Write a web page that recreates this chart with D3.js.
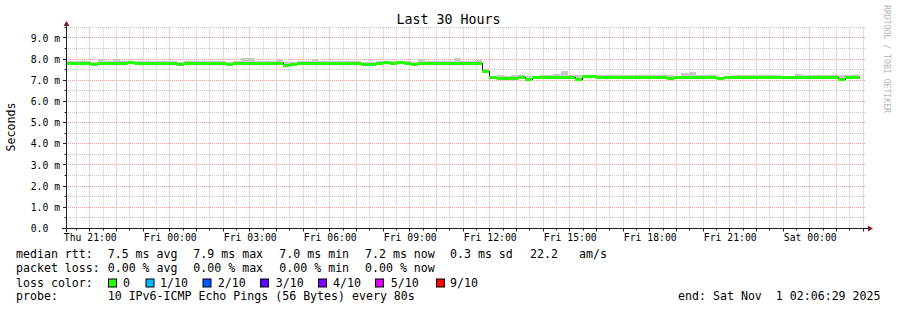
<!DOCTYPE html>
<html><head><meta charset="utf-8">
<script src="https://cdn.jsdelivr.net/npm/d3@7"></script>
<style>
body{margin:0;background:#fff}
text{font-family:"DejaVu Sans Mono",monospace;white-space:pre;fill:#000}
</style>
</head><body>
<svg id="c" width="897" height="310"></svg>
<script>
// ---------- DATA ----------
const title = "Last 30 Hours";
const yAxisTitle = "Seconds";
const watermark = "RRDTOOL / TOBI OETIKER";
// time in seconds since Thu 00:00
const startSec = 72389;      // Thu 20:06:29
const endSec = 180389;       // Sat 02:06:29
const segStartSec = 71955;   // start of first 16-min consolidated row
const segStepSec = 960;
const yTicks = [0,1,2,3,4,5,6,7,8,9];
const yTickLabels = ["0.0","1.0 m","2.0 m","3.0 m","4.0 m","5.0 m","6.0 m","7.0 m","8.0 m","9.0 m"];
const xTickHours = [21,24,27,30,33,36,39,42,45,48];
const xTickLabels = ["Thu 21:00","Fri 00:00","Fri 03:00","Fri 06:00","Fri 09:00","Fri 12:00","Fri 15:00","Fri 18:00","Fri 21:00","Sat 00:00"];
// median rtt (ms) per 16-min row
const median = [
 7.84,7.84,7.84,7.84,7.76,7.82,7.84,7.83,7.84,7.85,
 7.84,7.83,7.84,7.84,7.84,7.83,7.76,7.82,7.83,7.83,
 7.84,7.80,7.82,7.77,7.82,7.83,7.84,7.84,7.84,7.83,
 7.82,7.74,7.78,7.82,7.83,7.82,7.84,7.84,7.83,7.84,
 7.84,7.83,7.77,7.77,7.84,7.85,7.84,7.85,7.84,7.75,
 7.82,7.84,7.84,7.83,7.84,7.84,7.84,7.83,7.82,7.46,
 7.14,7.10,7.12,7.13,7.14,7.07,7.14,7.14,7.15,7.15,
 7.15,7.16,7.08,7.19,7.19,7.17,7.17,7.16,7.15,7.16,
 7.15,7.16,7.17,7.17,7.15,7.09,7.14,7.15,7.17,7.18,
 7.18,7.17,7.09,7.14,7.14,7.16,7.15,7.15,7.15,7.16,
 7.16,7.14,7.14,7.15,7.15,7.16,7.16,7.15,7.14,7.08,
 7.15,7.16];
// smoke: slowest ping (ms)
const smokeHi = [
 7.93,7.93,7.93,7.92,7.88,8.02,7.93,8.02,7.92,7.93,
 7.93,7.92,7.92,7.93,7.93,7.92,7.87,7.92,7.92,7.92,
 7.93,7.90,7.92,7.88,7.92,8.04,8.04,7.93,7.92,7.92,
 8.00,7.86,7.88,7.92,7.92,8.00,7.93,7.93,7.92,7.92,
 7.93,7.92,7.88,7.87,7.93,7.93,7.92,7.93,7.93,7.86,
 8.02,7.93,7.92,7.92,7.93,8.04,7.93,7.92,7.97,7.52,
 7.22,7.24,7.21,7.27,7.27,7.20,7.22,7.23,7.23,7.32,
 7.44,7.24,7.27,7.26,7.26,7.27,7.26,7.24,7.23,7.24,
 7.23,7.24,7.26,7.24,7.23,7.26,7.22,7.34,7.40,7.26,
 7.26,7.25,7.18,7.22,7.23,7.26,7.23,7.23,7.24,7.24,
 7.24,7.22,7.22,7.28,7.23,7.26,7.24,7.23,7.24,7.25,
 7.23,7.26];
// smoke: fastest ping (ms)
const smokeLo = [
 7.78,7.78,7.79,7.78,7.70,7.76,7.78,7.77,7.78,7.79,
 7.78,7.77,7.78,7.78,7.78,7.77,7.70,7.76,7.77,7.77,
 7.78,7.74,7.76,7.71,7.76,7.77,7.78,7.78,7.78,7.77,
 7.76,7.68,7.72,7.76,7.77,7.76,7.78,7.78,7.74,7.78,
 7.78,7.77,7.72,7.71,7.78,7.79,7.78,7.79,7.78,7.69,
 7.76,7.78,7.78,7.77,7.78,7.78,7.78,7.77,7.76,7.40,
 7.08,7.04,7.06,7.07,7.08,7.01,7.08,7.08,7.09,7.09,
 7.09,7.10,7.02,7.13,7.13,7.11,7.11,7.10,7.09,7.10,
 7.09,7.10,7.11,7.11,7.09,7.03,7.08,7.09,7.11,7.12,
 7.12,7.11,7.03,7.08,7.08,7.10,7.09,7.09,7.09,7.10,
 7.10,7.08,7.08,7.09,7.09,7.10,7.10,7.09,7.08,7.02,
 7.09,7.10];
const rttStats = ["7.5","7.9","7.0","7.2","0.3"];
const amsValue = "22.2";
const lossStats = ["0.00","0.00","0.00","0.00"];
const lossLabels = ["0","1/10","2/10","3/10","4/10","5/10","9/10"];
const lossColors = ["#26ff00","#00b8ff","#0059ff","#5e00ff","#7e00ff","#dd00ff","#ff0000"];
const probeText = "10 IPv6-ICMP Echo Pings (56 Bytes) every 80s";
const endText = "end: Sat Nov  1 02:06:29 2025";

// ---------- LAYOUT ----------
const L = 66, R = 866, B = 228.5, T = 27.4;
const svg = d3.select("#c");
const x = d3.scaleLinear().domain([startSec, endSec]).range([L, R]);
const y = d3.scaleLinear().domain([0, 9.5]).range([B, T]);
const px = v => Math.floor(v) + 0.5;

svg.append("rect").attr("width",897).attr("height",310).attr("fill","#fff");

// grid
const gGrid = svg.append("g");
const minorY = d3.range(0.5, 9.51, 0.5).filter(v => Math.abs(v - Math.round(v)) > 0.01);
minorY.forEach(v => gGrid.append("line").attr("x1",L).attr("x2",R).attr("y1",px(y(v))).attr("y2",px(y(v)))
  .attr("stroke","#c8c8c8").attr("stroke-dasharray","1,1"));
yTicks.filter(v=>v>0).forEach(v => gGrid.append("line").attr("x1",L).attr("x2",R).attr("y1",px(y(v))).attr("y2",px(y(v)))
  .attr("stroke","#ee9d9d").attr("stroke-dasharray","1,1"));
const hourStart = Math.ceil(startSec/1800), hourEnd = Math.floor(endSec/1800);
for (let h = hourStart; h <= hourEnd; h++) {
  const t = h*1800, major = (h % 2 === 0);
  gGrid.append("line").attr("x1",px(x(t))).attr("x2",px(x(t))).attr("y1",T).attr("y2",B)
    .attr("stroke", major ? "#ee9d9d" : "#c8c8c8").attr("stroke-dasharray","1,1");
}

// data
const segs = median.map((m,i) => ({
  t0: segStartSec + i*segStepSec, t1: segStartSec + (i+1)*segStepSec,
  m, hi: smokeHi[i], lo: smokeLo[i]}));
svg.append("clipPath").attr("id","pc").append("rect").attr("x",L).attr("y",T).attr("width",R-L).attr("height",B-T);
const gData = svg.append("g").attr("clip-path","url(#pc)");
const xr = v => Math.round(x(v));
gData.selectAll("rect.smoke").data(segs).join("rect").attr("class","smoke")
  .attr("x", d => xr(d.t0)).attr("width", d => xr(d.t1)-xr(d.t0))
  .attr("y", d => Math.round(y(d.hi))).attr("height", d => Math.round(y(d.lo))-Math.round(y(d.hi)))
  .attr("fill","#c8c8c8").attr("shape-rendering","crispEdges");
const linePts = segs.map(d => [d.t0, d.m]).concat([[segs[segs.length-1].t1, segs[segs.length-1].m]]);
gData.append("path").datum(linePts)
  .attr("d", d3.line().x(d => xr(d[0])+0.5).y(d => Math.round(y(d[1]))+0.5).curve(d3.curveStepAfter))
  .attr("fill","none").attr("stroke","#202020").attr("stroke-width",1).attr("shape-rendering","crispEdges");
gData.selectAll("rect.med").data(segs).join("rect").attr("class","med")
  .attr("x", d => xr(d.t0)).attr("width", d => xr(d.t1)-xr(d.t0))
  .attr("y", d => Math.round(y(d.m))-1).attr("height", 3)
  .attr("fill", lossColors[0]).attr("shape-rendering","crispEdges");

// axes
const axisCol = "#1f1f1f", arrowCol = "#801f1f";
svg.append("line").attr("x1",62).attr("x2",868).attr("y1",B).attr("y2",B).attr("stroke",axisCol);
svg.append("line").attr("x1",L+0.5).attr("x2",L+0.5).attr("y1",232).attr("y2",25).attr("stroke",axisCol);
svg.append("polygon").attr("points","63.5,26 69.5,26 66.5,21").attr("fill",arrowCol);
svg.append("polygon").attr("points","868,225.5 868,231.5 873,228.5").attr("fill",arrowCol);
yTicks.forEach((v,i) => {
  svg.append("line").attr("x1",63).attr("x2",L).attr("y1",px(y(v))).attr("y2",px(y(v))).attr("stroke",axisCol);
  svg.append("text").attr("x",30.7).attr("y",y(v)+3.6).attr("font-size","9.75px").text(yTickLabels[i]);
});
minorY.forEach(v => svg.append("line").attr("x1",64.5).attr("x2",L).attr("y1",px(y(v))).attr("y2",px(y(v))).attr("stroke",axisCol));
for (let h = hourStart; h <= hourEnd; h++) {
  const t = h*1800, major = (h % 2 === 0);
  svg.append("line").attr("x1",px(x(t))).attr("x2",px(x(t))).attr("y1",B).attr("y2",major?231.5:230.5).attr("stroke",axisCol);
}
xTickHours.forEach((h,i) => {
  svg.append("text").attr("x",x(h*3600)+0.5).attr("y",241).attr("text-anchor","middle")
    .attr("font-size","9.75px").text(xTickLabels[i]);
});

// titles
svg.append("text").attr("x",448.5).attr("y",24).attr("text-anchor","middle").attr("font-size","13.3px").text(title);
svg.append("text").attr("transform","translate(15,127) rotate(-90)").attr("text-anchor","middle")
  .attr("font-size","11.6px").text(yAxisTitle);
svg.append("text").attr("transform","translate(884,5) rotate(90)").attr("font-size","8.2px")
  .style("fill","#b4b4b4").attr("textLength",108).attr("lengthAdjust","spacingAndGlyphs").text(watermark);

// legend
const fs = "11.6px";
const lg = svg.append("g").attr("font-size", fs);
const t = (xx,yy,s) => lg.append("text").attr("x",xx).attr("y",yy).text(s);
const statX = [107.7,193.3,279.3,365];
const rttSuffix = [" ms avg"," ms max"," ms min"," ms now"];
const lossSuffix = [" % avg"," % max"," % min"," % now"];
t(16,258,"median rtt:");
statX.forEach((xx,i) => t(xx,258,rttStats[i]+rttSuffix[i]));
t(450,258,rttStats[4]+" ms sd");
t(530,258,amsValue);
t(579,258,"am/s");
t(16,272,"packet loss:");
statX.forEach((xx,i) => t(xx,272,lossStats[i]+lossSuffix[i]));
t(16,286.5,"loss color:");
const boxX = [108.5,146,203,260.5,318.5,375.5,436.5];
const labX = [123,160,217.7,275.7,333,390.7,450];
lossLabels.forEach((s,i) => {
  lg.append("rect").attr("x",boxX[i]).attr("y",279).attr("width",8).attr("height",8)
    .attr("fill",lossColors[i]).attr("stroke","#000").attr("stroke-width",1);
  t(labX[i],286.5,s);
});
t(16,300,"probe:");
t(107.7,300,probeText);
lg.append("text").attr("x",880.5).attr("y",300).attr("text-anchor","end").text(endText);
</script>
</body></html>
